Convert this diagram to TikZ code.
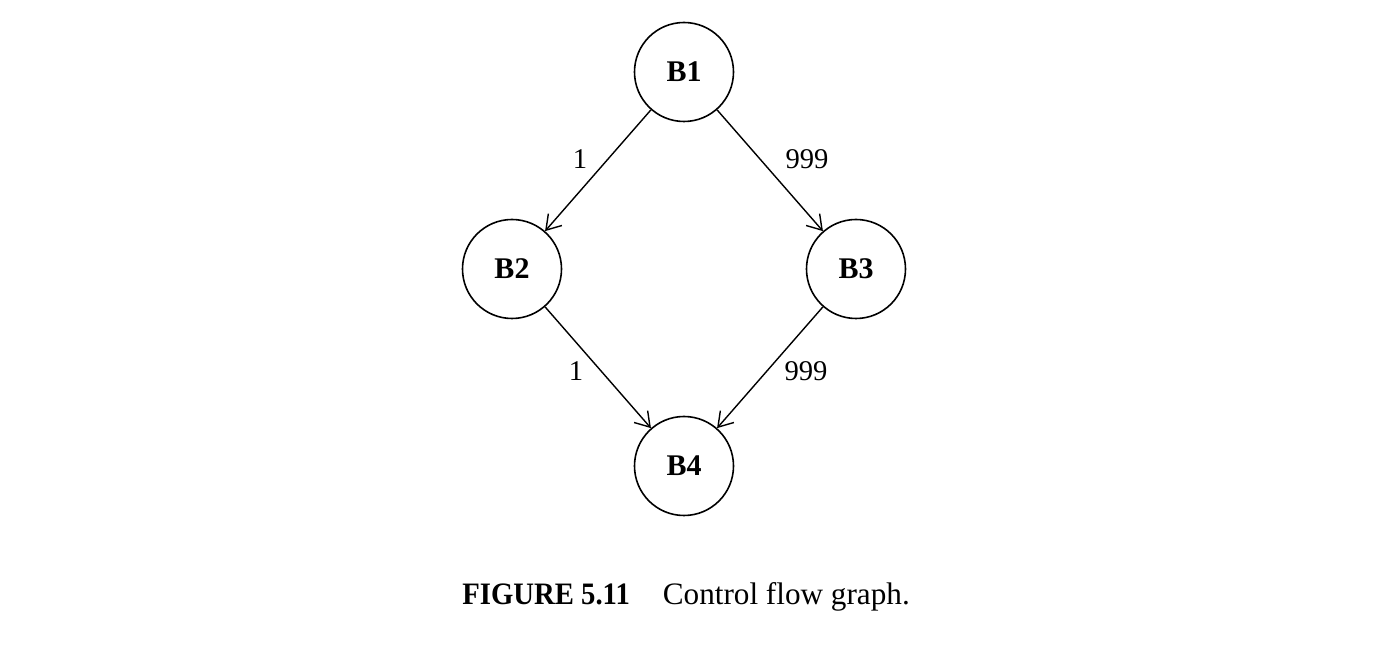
\documentclass[tikz,border=0pt]{standalone}
\usepackage{fontspec}
\setmainfont{Liberation Serif}
\usetikzlibrary{arrows.meta}
\begin{document}
\begin{tikzpicture}[x=0.5pt,y=-0.5pt,
  blk/.style={draw, circle, line width=0.8pt, minimum size=49.5pt, inner sep=0pt, font=\fontsize{15}{18}\selectfont\bfseries},
  edge/.style={line width=0.7pt, -{Straight Barb[length=7pt,width=9pt,line width=0.7pt]}},
  wt/.style={font=\fontsize{14.3}{16}\selectfont, inner sep=0pt}]
\useasboundingbox (0,0) rectangle (1388,646);
\node[blk] (b1) at (684,72) {B1};
\node[blk] (b2) at (512,269) {B2};
\node[blk] (b3) at (856,269) {B3};
\node[blk] (b4) at (684,466) {B4};
\draw[edge] (b1) -- (b2);
\draw[edge] (b1) -- (b3);
\draw[edge] (b2) -- (b4);
\draw[edge] (b3) -- (b4);
\node[wt] (l12) at (580,159) {1};
\node[wt] (l13) at (807,159) {999};
\node[wt] (l24) at (576,371) {1};
\node[wt] (l34) at (806,371) {999};
\node[font=\fontsize{15.6}{18}\selectfont, anchor=base west, inner sep=0pt] (cap) at (462,604) {\scalebox{0.92}[1]{\textbf{FIGURE 5.11}}\hspace{16.5pt}Control flow graph.};
\end{tikzpicture}
\end{document}
